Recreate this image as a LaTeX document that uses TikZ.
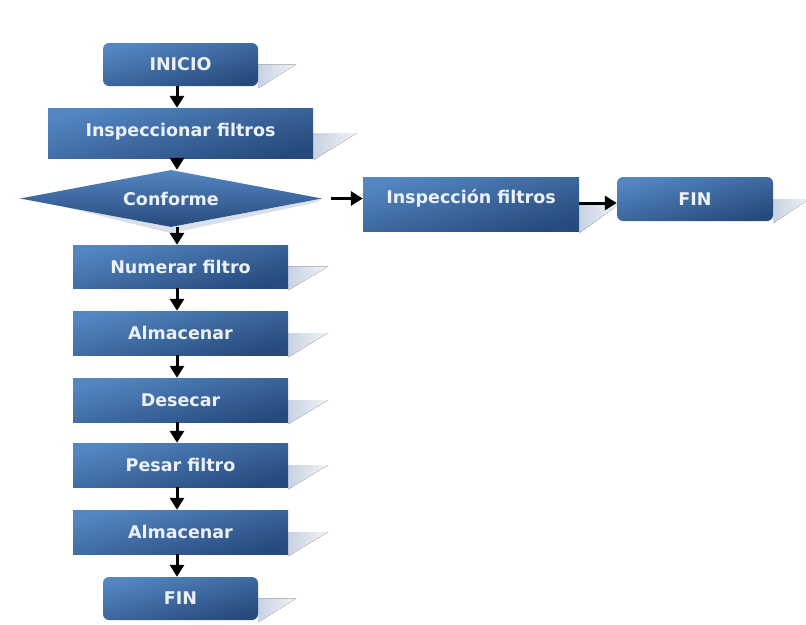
\documentclass[tikz,border=0pt]{standalone}
\usepackage{fontspec}
\setmainfont{DejaVu Sans}
\usetikzlibrary{shapes.geometric,arrows.meta,backgrounds}
\definecolor{boxtop}{RGB}{84,134,194}
\definecolor{boxbot}{RGB}{38,74,124}
\definecolor{txt}{RGB}{236,241,248}
\definecolor{shA}{RGB}{200,210,226}
\definecolor{shB}{RGB}{240,243,248}
\definecolor{dshadow}{RGB}{218,224,233}
\tikzset{
  box/.style={rectangle, top color=boxtop, bottom color=boxbot, shading angle=15,
    text=txt, font=\fontsize{17.5}{20}\selectfont\bfseries, inner sep=0pt},
  rbox/.style={box, rounded corners=6pt},
  decision/.style={diamond, top color=boxtop, bottom color=boxbot, text=txt,
    font=\fontsize{17.5}{20}\selectfont\bfseries, inner sep=0pt, shape aspect=5.3,
    minimum width=302pt, minimum height=57pt},
  arr/.style={line width=3pt, -{Triangle[width=14pt,length=12pt]}, black},
  shadowfill/.style={left color=shA, right color=shB}
}
\begin{document}
\begin{tikzpicture}[x=1pt,y=-1pt]
\useasboundingbox (0,0) rectangle (806,624);
\coordinate (ax) at (177,0);
\node[rbox, minimum width=155pt, minimum height=43pt] (inicio) at (180.5,64.5) {INICIO};
\node[box, minimum width=265pt, minimum height=50pt, text height=28pt, text depth=22pt] (insp) at (180.5,133) {Inspeccionar filtros};
\node[decision] (dia) at (171,198.5) {Conforme};
\node[box, minimum width=216pt, minimum height=54pt, text height=26pt, text depth=28pt] (insp2) at (471,204) {Inspección filtros};
\node[rbox, minimum width=156pt, minimum height=44pt] (fin2) at (695,199) {FIN};
\node[box, minimum width=215pt, minimum height=43pt] (num) at (180.5,266.5) {Numerar filtro};
\node[box, minimum width=215pt, minimum height=44pt] (alm1) at (180.5,333) {Almacenar};
\node[box, minimum width=215pt, minimum height=44pt] (des) at (180.5,400) {Desecar};
\node[box, minimum width=215pt, minimum height=44pt] (pes) at (180.5,465) {Pesar filtro};
\node[box, minimum width=215pt, minimum height=44pt] (alm2) at (180.5,532) {Almacenar};
\node[rbox, minimum width=155pt, minimum height=43pt] (fin) at (180.5,598.5) {FIN};

\begin{pgfonlayer}{background}
  \foreach \n/\d in {inicio/38, insp/44, insp2/40, fin2/36, num/40, alm1/40, des/40, pes/40, alm2/40, fin/38}{
    \fill[shadowfill] (\n.east) -- ++(\d,0) -- ([yshift=-2pt]\n.south east) -- cycle;
  }
  \fill[dshadow] ([xshift=10pt]dia.west) -- ([yshift=-6pt]dia.south) -- ([xshift=-6pt,yshift=-4pt]dia.east) -- (dia.east) -- (dia.south) -- cycle;
\end{pgfonlayer}

\draw[arr] (inicio.south -| ax) -- (insp.north -| ax);
\draw[arr] (insp.south -| ax) -- (dia.north -| ax);
\draw[arr] (dia.south -| ax) -- (num.north -| ax);
\draw[arr] (num.south -| ax) -- (alm1.north -| ax);
\draw[arr] (alm1.south -| ax) -- (des.north -| ax);
\draw[arr] (des.south -| ax) -- (pes.north -| ax);
\draw[arr] (pes.south -| ax) -- (alm2.north -| ax);
\draw[arr] (alm2.south -| ax) -- (fin.north -| ax);
\draw[arr, shorten <=9pt] (dia.east) -- (dia.east -| insp2.west);
\draw[arr] ([yshift=-4pt]fin2.west -| insp2.east) -- ([yshift=-4pt]fin2.west);
\end{tikzpicture}
\end{document}
